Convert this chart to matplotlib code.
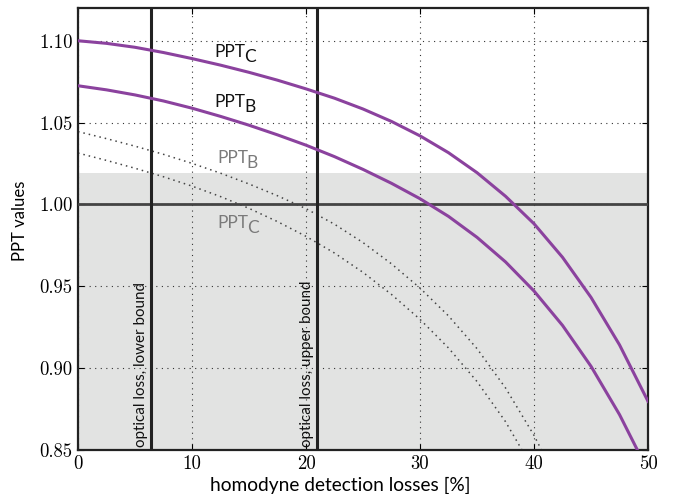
import matplotlib
matplotlib.use("Agg")
import matplotlib.pyplot as plt

# losses [%] and PPT values
loss = [0, 2.5, 5, 7.5, 10, 12.5, 15, 17.5, 20, 22.5, 25, 27.5,
        30, 32.5, 35, 37.5, 40, 42.5, 45, 47.5, 50]
ppt_c = [1.1000, 1.0984, 1.0960, 1.0928, 1.0891, 1.0851, 1.0807, 1.0759,
         1.0706, 1.0649, 1.0583, 1.0507, 1.0419, 1.0316, 1.0194, 1.0050,
         0.9882, 0.9677, 0.9432, 0.9142, 0.8797]
ppt_b = [1.0725, 1.0700, 1.0669, 1.0632, 1.0588, 1.0538, 1.0484, 1.0425,
         1.0362, 1.0292, 1.0214, 1.0129, 1.0035, 0.9927, 0.9799, 0.9649,
         0.9471, 0.9261, 0.9011, 0.8716, 0.8371]
ppt_b_dot = [1.0445, 1.0402, 1.0356, 1.0306, 1.0251, 1.0191, 1.0125, 1.0053,
             0.9974, 0.9879, 0.9767, 0.9637, 0.9489, 0.9319, 0.9119, 0.8879,
             0.8589, 0.8249, 0.7850, 0.7380, 0.6830]
ppt_c_dot = [1.0314, 1.0269, 1.0221, 1.0169, 1.0112, 1.0048, 0.9976, 0.9895,
             0.9805, 0.9703, 0.9585, 0.9450, 0.9298, 0.9123, 0.8918, 0.8673,
             0.8373, 0.8013, 0.7583, 0.7083, 0.6503]

loss_lower = 6.4
loss_upper = 21.0
shade_top = 1.019

plt.rcParams['font.family'] = ['Lato', 'DejaVu Sans']

purple = '#8B429E'
gray_txt = '#7a7a7a'

fig = plt.figure(figsize=(6.73, 4.94), dpi=100)
ax = fig.add_axes([0.1159, 0.0891, 0.847, 0.8947])

ax.axhspan(0.85, shade_top, color='#e2e3e2', zorder=0, lw=0)
ax.grid(True, color='#333333', linestyle=(0, (1, 4)), lw=0.8, zorder=1)

ax.plot(loss, ppt_b_dot, color='#444444', linestyle=(0, (1, 2.6)), lw=1.1, zorder=2)
ax.plot(loss, ppt_c_dot, color='#444444', linestyle=(0, (1, 2.6)), lw=1.1, zorder=2)
ax.axhline(1.0, color='#444444', lw=2, zorder=3)
ax.axvline(loss_lower, color='#222222', lw=2.2, zorder=3)
ax.axvline(loss_upper, color='#222222', lw=2.2, zorder=3)
ax.plot(loss, ppt_c, color=purple, lw=2.2, zorder=4)
ax.plot(loss, ppt_b, color=purple, lw=2.2, zorder=4)


def ppt_label(x, y, sub, color):
    t = ax.text(x, y, 'PPT', fontsize=12.5, color=color, va='baseline')
    ax.annotate(sub, xy=(1, 0), xycoords=t, xytext=(-1, -1.5),
                textcoords='offset points', fontsize=12.5, color=color,
                va='baseline', ha='left')


ppt_label(12.0, 1.0903, 'C', '#111111')
ppt_label(12.0, 1.0596, 'B', '#111111')
ppt_label(12.2, 1.0253, 'B', gray_txt)
ppt_label(12.2, 0.9855, 'C', gray_txt)

ax.text(loss_lower - 0.3, 0.852, 'optical loss, lower bound', rotation=90,
        ha='right', va='bottom', fontsize=10.9, color='#111111')
ax.text(loss_upper - 0.3, 0.852, 'optical loss, upper bound', rotation=90,
        ha='right', va='bottom', fontsize=10.9, color='#111111')

ax.set_xlim(0, 50)
ax.set_ylim(0.85, 1.12)
ax.set_xticks([0, 10, 20, 30, 40, 50])
ax.set_yticks([0.85, 0.90, 0.95, 1.00, 1.05, 1.10])
ax.set_yticklabels(['0.85', '0.90', '0.95', '1.00', '1.05', '1.10'])
ax.tick_params(direction='in', top=True, right=True, length=4, width=0.8,
               labelsize=13.5, pad=4)
for lab in ax.get_xticklabels() + ax.get_yticklabels():
    lab.set_fontfamily('cmr10')

for s in ax.spines.values():
    s.set_linewidth(1.6)
    s.set_color('#222222')

ax.set_xlabel('homodyne detection losses [%]', fontsize=13.8)
ax.set_ylabel('PPT values', fontsize=12)
ax.xaxis.set_label_coords(0.46, -0.061)
ax.yaxis.set_label_coords(-0.088, 0.518)

fig.savefig('out.png', dpi=100)
